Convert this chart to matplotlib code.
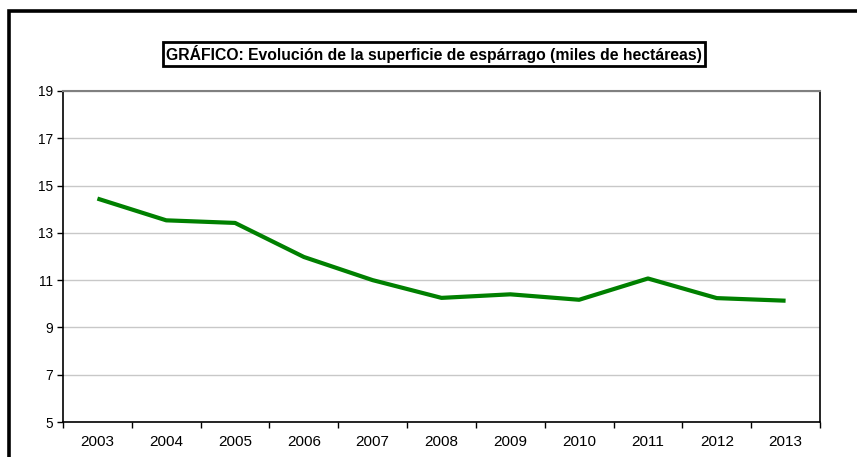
import matplotlib
matplotlib.use("Agg")
import matplotlib.pyplot as plt
from matplotlib.patches import Rectangle

# Data (miles de hectáreas)
years = ["2003", "2004", "2005", "2006", "2007", "2008", "2009", "2010", "2011", "2012", "2013"]
superficie = [14.45, 13.53, 13.42, 11.98, 11.0, 10.25, 10.4, 10.17, 11.07, 10.24, 10.13]
y_ticks = [5, 7, 9, 11, 13, 15, 17, 19]

plt.rcParams["font.family"] = ["Liberation Sans", "DejaVu Sans"]

fig = plt.figure(figsize=(8.57, 4.57), dpi=100)
ax = fig.add_axes([63 / 857, 1 - 422 / 457, 757 / 857, 331 / 457])

# Outer chart frame (cut off at right and bottom)
fig.patches.append(Rectangle((9 / 857, -0.2), 1.2, 1.2 - 11 / 457,
                             transform=fig.transFigure, fill=False,
                             edgecolor="black", linewidth=2.6, zorder=0))

x = list(range(len(years)))
ax.plot(x, superficie, color="#008000", linewidth=3.0, solid_capstyle="butt", zorder=3)

ax.set_xlim(-0.5, len(years) - 0.5)
ax.set_ylim(5, 19)
ax.set_yticks(y_ticks)
ax.set_yticklabels([str(t) for t in y_ticks], fontsize=9.8)
ax.yaxis.grid(True, color="#c8c8c8", linewidth=1)
ax.set_axisbelow(True)

# category ticks between the years, labels at centers
ax.set_xticks([i - 0.5 for i in range(len(years) + 1)])
ax.set_xticklabels([])
ax.set_xticks(x, minor=True)
ax.set_xticklabels(years, minor=True, fontsize=11)
ax.tick_params(axis="x", which="minor", length=0, pad=9)
ax.tick_params(axis="x", which="major", length=4, width=1, direction="out")
ax.tick_params(axis="y", length=4, width=1, direction="out", pad=3)

for s in ["left", "bottom", "right"]:
    ax.spines[s].set_color("black")
    ax.spines[s].set_linewidth(1.2)
ax.spines["top"].set_color("#808080")
ax.spines["top"].set_linewidth(1.5)

fig.text(434 / 857, 1 - 54 / 457,
         "GRÁFICO: Evolución de la superficie de espárrago (miles de hectáreas)",
         ha="center", va="center", fontsize=11.3, fontweight="bold",
         bbox=dict(boxstyle="square,pad=0.2", facecolor="white", edgecolor="black", linewidth=2))

fig.savefig("out.png", dpi=100, facecolor="white")
